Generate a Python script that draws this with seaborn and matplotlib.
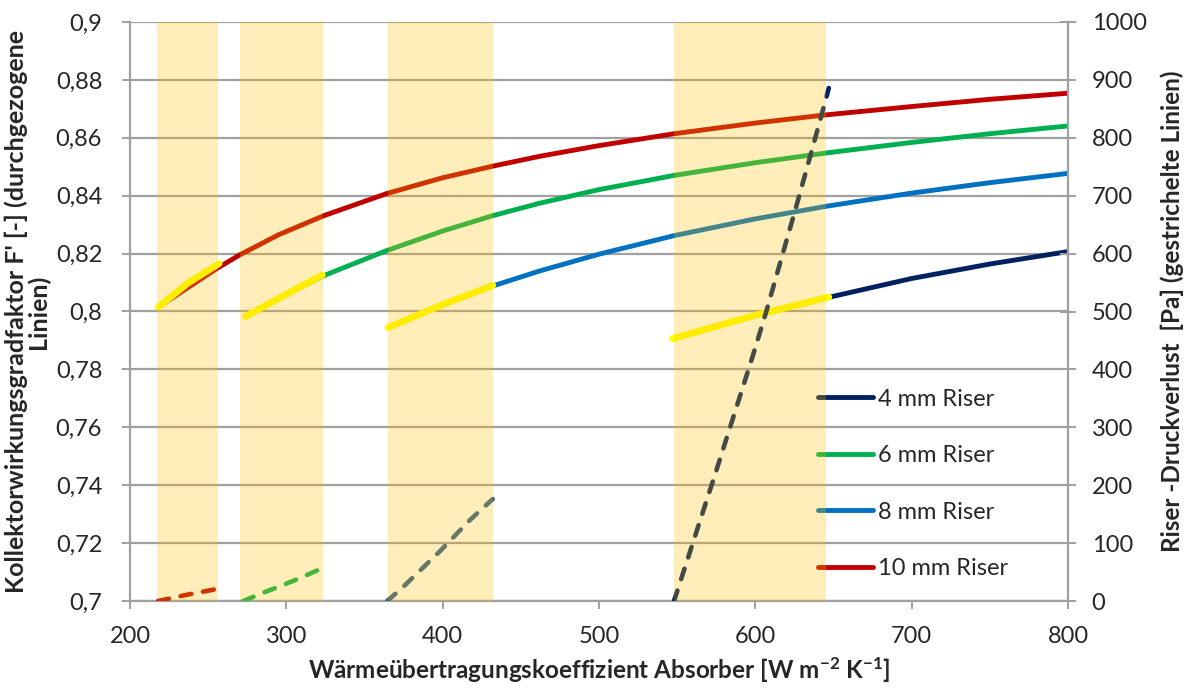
import matplotlib
matplotlib.use("Agg")
import matplotlib.pyplot as plt
from matplotlib.ticker import FuncFormatter, MultipleLocator
import seaborn as sns

# ---------------- data ----------------
x_4 = [547, 600, 647, 700, 750, 800]
f_4 = [0.7906, 0.7985, 0.8049, 0.8114, 0.8164, 0.8207]

x_6 = [274, 300, 324, 364, 400, 432, 462, 500, 548, 600, 646, 700, 750, 800]
f_6 = [0.7983, 0.8058, 0.8124, 0.8210, 0.8278, 0.8331, 0.8374, 0.8421, 0.8470,
       0.8514, 0.8548, 0.8584, 0.8614, 0.8641]

x_8 = [365, 400, 432, 462, 500, 548, 600, 646, 700, 750, 800]
f_8 = [0.7944, 0.8022, 0.8088, 0.8140, 0.8198, 0.8262, 0.8320, 0.8364, 0.8409,
       0.8445, 0.8477]

x_10 = [218, 240, 256, 270, 295, 324, 364, 400, 432, 462, 500, 548, 600, 643,
        700, 750, 800]
f_10 = [0.8015, 0.8093, 0.8150, 0.8195, 0.8265, 0.8331, 0.8407, 0.8462, 0.8502,
        0.8536, 0.8573, 0.8614, 0.8651, 0.8678, 0.8708, 0.8733, 0.8754]

# yellow highlighted sections (operating range)
yx_4 = [547, 600, 647]
yf_4 = [0.7906, 0.7987, 0.8050]
yx_6 = [274, 300, 323]
yf_6 = [0.7983, 0.8060, 0.8126]
yx_8 = [365, 400, 432]
yf_8 = [0.7944, 0.8024, 0.8090]
yx_10 = [218, 237, 257]
yf_10 = [0.8015, 0.8098, 0.8166]

# riser pressure loss (dashed, right axis)
px_4 = [548, 575, 598, 607, 616.5, 625.5, 635.3, 642.6, 647]
p_4 = [0, 225, 420, 500, 590, 675, 770, 842, 886]
px_6 = [272.5, 285, 300, 310, 321.5]
p_6 = [0, 14, 30, 41, 55]
px_8 = [364.5, 375, 399, 417.5, 432]
p_8 = [0, 25, 88, 140, 176]
px_10 = [218, 235, 256]
p_10 = [0, 10, 21]

band_lo = [217, 270.5, 365, 548]
band_hi = [256, 323.5, 432, 645.5]

labels = ["4 mm Riser", "6 mm Riser", "8 mm Riser", "10 mm Riser"]
colors = ["#002060", "#00B050", "#0070C0", "#C00000"]
dash_colors = ["#002060", "#00B050", "#2F5E94", "#C00000"]

# ---------------- style ----------------
sns.set_style("white")
plt.rcParams["font.family"] = ["Lato", "DejaVu Sans"]
plt.rcParams["mathtext.default"] = "regular"

fig = plt.figure(figsize=(11.91, 6.89), dpi=100)
ax = fig.add_axes([130 / 1191, 1 - 601 / 689, (1068 - 130) / 1191, (601 - 22) / 689])
ax2 = ax.twinx()

gray = "#A0A0A0"
lw_solid = 3.5

# solid lines
solid = [(x_4, f_4), (x_6, f_6), (x_8, f_8), (x_10, f_10)]
handles = []
for (xs, ys), c, lab in zip(solid, colors, labels):
    sns.lineplot(x=xs, y=ys, ax=ax, color=c, lw=lw_solid, sort=False,
                 solid_capstyle="round", solid_joinstyle="round", zorder=3,
                 label=lab, legend=False)
    handles.append(ax.lines[-1])

for xs, ys in [(yx_4, yf_4), (yx_6, yf_6), (yx_8, yf_8), (yx_10, yf_10)]:
    sns.lineplot(x=xs, y=ys, ax=ax, color="#FFFF00", lw=4.9, sort=False,
                 solid_capstyle="round", solid_joinstyle="round", zorder=4,
                 legend=False)

# dashed lines on the right axis
dashed = [(px_4, p_4), (px_6, p_6), (px_8, p_8), (px_10, p_10)]
for (xs, ps), c in zip(dashed, dash_colors):
    sns.lineplot(x=xs, y=ps, ax=ax2, color=c, lw=3.3, sort=False,
                 linestyle=(0, (2.4, 2.6)), dash_capstyle="round",
                 zorder=3, legend=False)

# shaded bands on top (semi-transparent)
for lo, hi in zip(band_lo, band_hi):
    ax2.axvspan(lo, hi, color="#FFC000", alpha=0.27, lw=0, zorder=6)

# axes
ax.set_xlim(200, 800)
ax.set_ylim(0.7, 0.9)
ax2.set_ylim(0, 1000)
ax.xaxis.set_major_locator(MultipleLocator(100))
ax.yaxis.set_major_locator(MultipleLocator(0.02))
ax2.yaxis.set_major_locator(MultipleLocator(100))


def fmt_left(v, pos):
    s = f"{v:.2f}".rstrip("0").rstrip(".")
    return s.replace(".", ",")


ax.yaxis.set_major_formatter(FuncFormatter(fmt_left))

ax.grid(axis="y", color=gray, lw=1.6, zorder=0)
ax.grid(axis="x", visible=False)
ax.set_axisbelow(True)

ax.spines["top"].set_visible(False)
ax2.spines["top"].set_visible(False)
ax.spines["right"].set_visible(False)
ax2.spines["left"].set_visible(False)
ax2.spines["bottom"].set_visible(False)
for sp in [ax.spines["left"], ax.spines["bottom"], ax2.spines["right"]]:
    sp.set_color(gray)
    sp.set_linewidth(1.6)

tick_fs = 17
ax.tick_params(axis="y", direction="out", length=6, width=1.4, color=gray,
               labelsize=tick_fs, pad=14, left=True)
ax.tick_params(axis="x", direction="out", length=6, width=1.4, color=gray,
               labelsize=tick_fs, pad=12, bottom=True)
ax2.tick_params(axis="y", direction="inout", length=12, width=1.4, color=gray,
                labelsize=tick_fs, pad=11, right=True)

ax.set_xlabel(r"Wärmeübertragungskoeffizient Absorber [W m$^{-2}$ K$^{-1}$]",
              fontsize=17.5, fontweight="bold", labelpad=6)
ax.set_ylabel("Kollektorwirkungsgradfaktor F' [-] (durchgezogene\nLinien)",
              fontsize=18, fontweight="bold", labelpad=4, linespacing=0.95)
ax2.set_ylabel("Riser -Druckverlust  [Pa] (gestrichelte Linien)",
               fontsize=17.5, fontweight="bold", labelpad=10)

leg = ax2.legend(handles=handles, labels=labels, loc="upper left",
                 bbox_to_anchor=(0.7234, 0.383), frameon=False, fontsize=17,
                 handlelength=2.33, handletextpad=0.22, labelspacing=1.5,
                 borderaxespad=0.0)
leg.set_zorder(2)

fig.savefig("out.png", dpi=100)
